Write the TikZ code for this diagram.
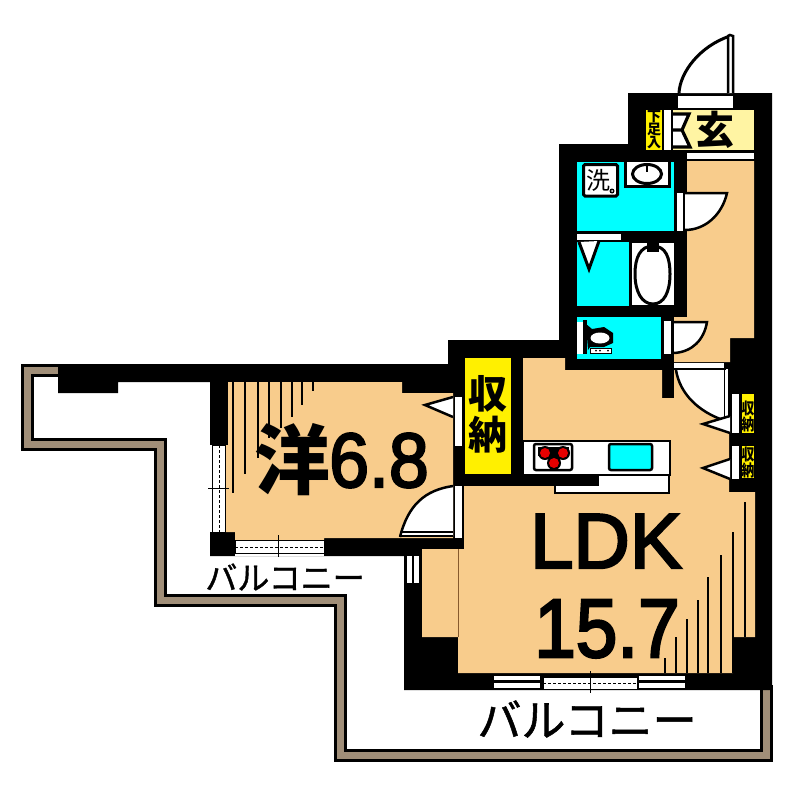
\documentclass[tikz,border=0pt]{standalone}
\usepackage{fontspec}
\setmainfont{Liberation Sans}
\newfontfamily\cjk{Noto Sans CJK JP}
\newfontfamily\cjkm[FakeBold=1.2]{Noto Sans CJK JP}
\newfontfamily\numf[FakeBold=3]{Liberation Sans}
\definecolor{peach}{HTML}{F8CC8C}
\definecolor{cyanroom}{HTML}{00FFFF}
\definecolor{yel}{HTML}{FFF000}
\definecolor{paley}{HTML}{FFF4A3}
\definecolor{brownrail}{HTML}{A08E78}
\tikzset{
  wall/.style={fill=black},
  txt/.style={inner sep=0pt,outer sep=0pt,black},
  hatch/.style={draw=black,line width=2.6pt},
}
\newcommand{\fs}[1]{\fontsize{#1}{#1}\selectfont}
\begin{document}
\begin{tikzpicture}[x=1pt,y=-1pt]
\useasboundingbox (0,0) rectangle (794,792);
\fill[white] (0,0) rectangle (794,792);
% balcony rail
\draw[black,line width=13pt,miter limit=10] (62,370.5)--(27,370.5)--(27,444)--(160,444)--(160,600)--(340,600)--(340,755)--(766,755)--(766,685);
\draw[brownrail,line width=7pt] (62,370.5)--(27,370.5)--(27,444)--(160,444)--(160,600)--(340,600)--(340,755)--(766,755)--(766,685);
% building silhouette
\fill[wall] (58,364)--(448,364)--(448,340)--(559,340)--(559,144)--(628,144)--(628,93)--(772,93)--(772,690)--(404,690)--(404,556)--(210,556)--(210,382)--(118,382)--(118,393)--(58,393)--cycle;
% peach rooms
\fill[peach] (228,382)--(402,382)--(402,393)--(453,393)--(453,538)--(324,538)--(324,540)--(235,540)--(235,532)--(226,532)--(226,445)--(228,445)--cycle;
\fill[peach] (687,161)--(754,161)--(754,338)--(730,338)--(730,362)--(674,362)--(674,317)--(687,317)--cycle;
\fill[peach] (674,370)--(729,370)--(729,492)--(755,492)--(755,637)--(733,637)--(733,673)--(458,673)--(458,637)--(422,637)--(422,549)--(464,549)--(464,486)--(599,486)--(599,474)--(523,474)--(523,358)--(565,358)--(565,370)--(662,370)--(662,398)--(674,398)--cycle;
\draw[brown!70!black,line width=.8pt] (458,549)--(458,637);
% cyan rooms
\fill[cyanroom] (577,162) rectangle (674,231);
\fill[cyanroom] (577,242) rectangle (629,306);
\fill[cyanroom] (577,317) rectangle (661,359);
% entrance
\fill[paley] (673,110) rectangle (754,150);
\fill[yel] (646,110) rectangle (662,150);
\fill[white] (664,110) rectangle (671,150);
\fill[white] (678,96) rectangle (733,108);
\fill[white] (687,153) rectangle (754,159);
\node[txt] (genkan) at (715,130) {\cjk\fs{39}\bfseries 玄};
\fill[white] (673,115)--(688,115)--(680,130)--(690,147)--(673,147)--cycle;
\draw[line width=3.2pt] (673,114)--(689,114)--(682,130)--(690,147)--(673,147) (673,130)--(682,130);
\node[txt] (geta) at (654,130) {\cjk\fs{14}\bfseries\shortstack[c]{下\\[-2.5pt]足\\[-2.5pt]入}};
% entrance door
\fill[white] (679,93) .. controls (680,72) and (700,46) .. (730,36) -- (730,93) -- cycle;
\draw[line width=3pt] (679,93) .. controls (680,72) and (700,46) .. (730,36);
\draw[fill=white,line width=2.5pt] (728,93)--(728,36)--(730,35)--(733,36)--(733,93);
% bath strip
\fill[white] (577,234) rectangle (621,240);
% washer box
\draw[fill=white,line width=3pt,rounded corners=1.5pt] (583.5,164.5) rectangle (617.5,196);
\node[txt] (wash) at (598,180) {\cjk\fs{24}洗};
\fill[black] (612,191) circle (2.5pt);
\fill[white] (612,191) circle (1pt);
% basin
\draw[fill=white,line width=3pt] (625.5,160) rectangle (669,186);
\draw[line width=3pt] (647,174) ellipse (14.5pt and 9.5pt);
\draw[line width=2.5pt] (647,164)--(647,172);
\fill[cyanroom] (670.5,162) rectangle (674,187);
% bath door
\fill[white] (677,193) rectangle (683,231);
\fill[white] (685,193)--(726,193) .. controls (722,215) and (705,230) .. (685,230)--cycle;
\draw[line width=2.5pt] (685,193)--(727,193) .. controls (722,215) and (705,230) .. (685,230);
% bath triangle and tub
\draw[fill=white,line width=3pt] (579,242)--(589,269)--(599,241);
\fill[white] (632,243) rectangle (674,305);
\draw[fill=white,line width=3pt] (653,246) .. controls (640,246) and (635,258) .. (635,274) .. controls (635,292) and (642,304) .. (653,304) .. controls (664,304) and (670,292) .. (670,274) .. controls (670,258) and (666,246) .. (653,246) -- cycle;
\fill[black] (647,243) rectangle (659,252);
% toilet
\fill[white] (577,322) rectangle (583,354);
\fill[black] (583,320) rectangle (587,354);
\fill[black] (586,324)--(592,329)--(604,327)--(613,333)--(613,343)--(604,347)--(590,347)--(588,350)--cycle;
\fill[white] (600,338) ellipse (9.5pt and 5.5pt);
\draw[fill=white,line width=1pt] (590,348) rectangle (611,353.5);
\foreach \dx in {596,600,608}{\fill[black] (\dx,350.7) circle (1pt);}
% toilet door
\fill[white] (664,321) rectangle (671,354);
\draw[fill=white,line width=2.5pt] (674,322)--(707,322) .. controls (704,340) and (692,352) .. (674,353);
% storage
\fill[yel] (465,358) rectangle (511,474);
\node[txt] (sto1) at (488,394) {\cjk\fs{39}\bfseries 収};
\node[txt] (sto2) at (488,435) {\cjk\fs{39}\bfseries 納};
\fill[white] (455,397) rectangle (462,446);
\fill[white] (455,486) rectangle (462,538);
% LDK door from hall
\fill[white] (674,363) rectangle (724,368);
\fill[white] (676,370) .. controls (680,395) and (700,412) .. (723,420) -- (726,420) -- (726,370)--cycle;
\draw[line width=2.5pt] (676,370) .. controls (680,395) and (700,412) .. (723,420);
\draw[line width=1.5pt] (724.5,369)--(724.5,422) (729,369)--(729,422);
\fill[white] (725.5,369) rectangle (728,420);
% side closets
\fill[yel] (742,394) rectangle (754,433);
\fill[yel] (742,446) rectangle (754,478);
\fill[white] (732,394) rectangle (739,433);
\fill[white] (732,446) rectangle (739,479);
\node[txt,xscale=.8,transform shape] (c1a) at (748,408) {\cjk\fs{16}\bfseries 収};
\node[txt,xscale=.8,transform shape] (c1b) at (748,424.5) {\cjk\fs{16}\bfseries 納};
\node[txt,xscale=.8,transform shape] (c2a) at (748,454) {\cjk\fs{16}\bfseries 収};
\node[txt,xscale=.8,transform shape] (c2b) at (748,470) {\cjk\fs{16}\bfseries 納};
% triangles
\draw[fill=white,line width=2.5pt] (730,416)--(703,424)--(730,433);
\draw[fill=white,line width=2.5pt] (730,459)--(703,468)--(730,479);
\draw[fill=white,line width=2.5pt] (453,397)--(425,405)--(453,417);
% kitchen
\draw[fill=white,line width=2pt] (523,441) rectangle (670,475);
\draw[fill=white,line width=2pt] (555,475) rectangle (669,493);
\fill[wall] (511,474) rectangle (599,486);
\fill[white] (600,477) rectangle (668,492);
\draw[fill=white,line width=2.5pt,rounded corners=2pt] (534,444) rectangle (572,470);
\fill[black] (538,447) rectangle (569,456);
\fill[black] (549,456) rectangle (559,468);
\foreach \px/\py in {545/453,563/453,554/463}{\fill[black] (\px,\py) circle (7pt);\fill[red!90!black] (\px,\py) circle (5pt);}
\draw[fill=cyanroom,line width=2.5pt,rounded corners=2pt] (609,444) rectangle (652,470);
% room door
\fill[white] (401,536) .. controls (408,505) and (425,490) .. (453,486) -- (453,536) -- cycle;
\draw[line width=2.5pt] (400,537) .. controls (408,505) and (425,490) .. (453,486);
\draw[line width=1.5pt] (401,532)--(453,532) (401,536)--(453,536);
% room window west
\fill[white] (210,445) rectangle (212,532);
\draw[fill=white,line width=1pt] (212.5,445) rectangle (225.5,532);
\draw[line width=.8pt,dash pattern=on 3pt off 2pt] (219,445)--(219,532);
\draw[line width=.8pt] (208,488)--(229,488);
% room window south
\fill[white] (235,553) rectangle (324,556);
\draw[fill=white,line width=1pt] (235,540.5) rectangle (324,553);
\draw[line width=.8pt,dash pattern=on 3pt off 2pt] (235,547)--(324,547);
\draw[line width=.8pt] (278,535)--(278,557);
% slits
\fill[white] (407,556) rectangle (412,583);
\fill[white] (414,556) rectangle (419,583);
% LDK window
\fill[white] (494,676) rectangle (540,680);
\fill[white] (494,683) rectangle (540,688);
\fill[white] (639,676) rectangle (685,680);
\fill[white] (639,683) rectangle (685,688);
\draw[fill=white,line width=1pt] (543,677) rectangle (637,689);
\draw[line width=.8pt,dash pattern=on 3pt off 2pt] (543,683)--(637,683);
\draw[line width=.8pt] (590,671)--(590,693);
% hatching
\foreach \hx/\hy in {233/493,245/474,258/458,269/438,281/428,292/417,302/405,313/391}{\draw[hatch] (\hx,382)--(\hx,\hy);}
\foreach \hx/\hy in {665/658,676/637,687/619,698/600,708/577,721/555,733/532}{\draw[hatch] (\hx,673)--(\hx,\hy);}
\draw[hatch] (745,502)--(745,637);
% labels
\node[txt] (western) at (292,460) {\cjk\fs{76}\bfseries 洋};
\node[txt,anchor=base,xscale=.93,transform shape] (westnum) at (379,487) {\numf\fs{77}6.8};
\node[txt,anchor=base] (ldk) at (606,568) {\numf\fs{78}LDK};
\node[txt,anchor=base,xscale=.9,transform shape] (ldknum) at (607,657) {\numf\fs{83}15.7};
\node[txt] (balc1) at (285,577) {\cjkm\fs{32}バルコニー};
\node[txt] (balc2) at (587,719) {\cjkm\fs{44}バルコニー};
\end{tikzpicture}
\end{document}
